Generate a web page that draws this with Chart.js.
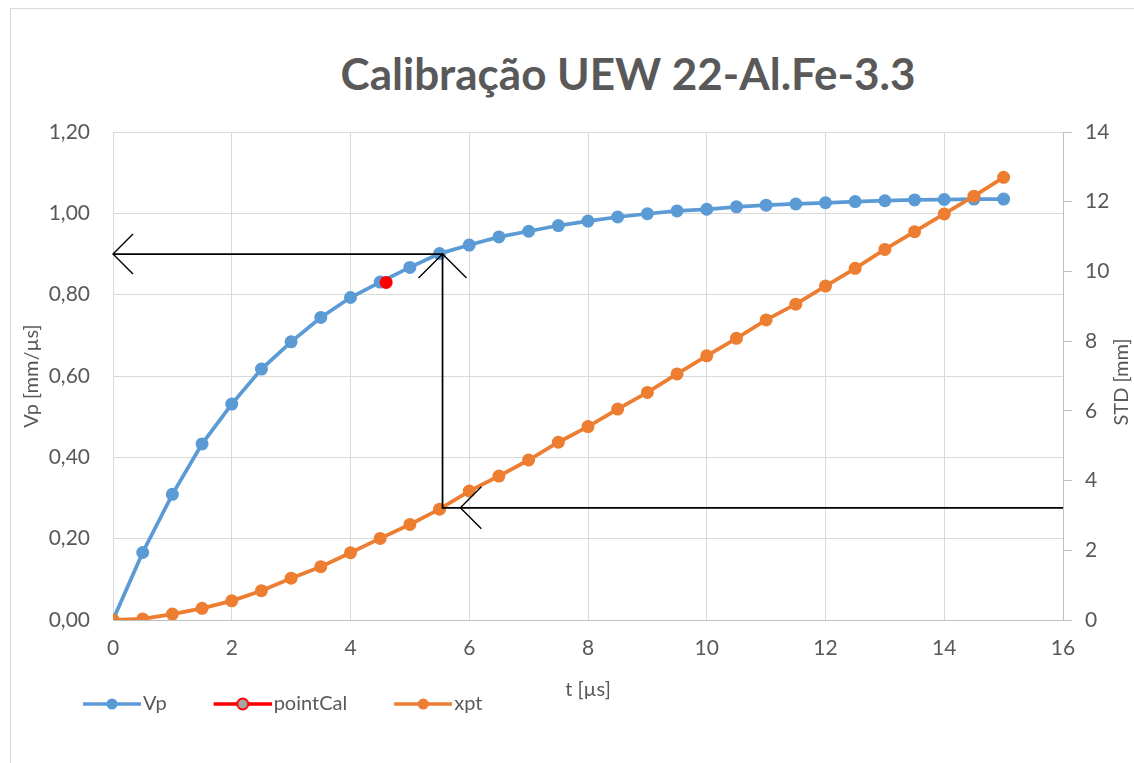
<!DOCTYPE html>
<html lang="pt">
<head>
<meta charset="utf-8">
<title>Calibração UEW 22-Al.Fe-3.3</title>
<script src="https://cdn.jsdelivr.net/npm/chart.js@4.4.1/dist/chart.umd.min.js"></script>
<style>
  html, body { margin: 0; padding: 0; background: #fff; overflow: hidden; }
  #frame {
    position: absolute; left: 10px; top: 8px;
    width: 1140px; height: 800px;
    border: 1px solid #d9d9d9;
  }
  #title {
    position: absolute; top: 47px; left: 628px;
    transform: translateX(-50%);
    font: bold 44px Lato, "Open Sans", sans-serif;
    color: #595959; white-space: nowrap; line-height: 1.2;
  }
  #wrap { position: absolute; left: 0; top: 0; width: 1134px; height: 763px; }
</style>
</head>
<body>
<div id="frame"></div>
<div id="title">Calibração UEW 22-Al.Fe-3.3</div>
<div id="wrap"><canvas id="chart"></canvas></div>
<script>
// tempo [µs]
const tempo = [0, 0.5, 1, 1.5, 2, 2.5, 3, 3.5, 4, 4.5, 5, 5.5, 6, 6.5, 7, 7.5,
               8, 8.5, 9, 9.5, 10, 10.5, 11, 11.5, 12, 12.5, 13, 13.5, 14, 14.5, 15];
// velocidade Vp [mm/µs]
const vp = [0, 0.166, 0.309, 0.433, 0.531, 0.617, 0.684, 0.744, 0.793, 0.831, 0.867,
            0.901, 0.922, 0.942, 0.956, 0.970, 0.981, 0.991, 0.999, 1.006, 1.010,
            1.016, 1.020, 1.023, 1.026, 1.029, 1.031, 1.033, 1.034, 1.035, 1.035];
// deslocamento xpt [mm]
const xpt = [0, 0.03, 0.17, 0.335, 0.55, 0.84, 1.20, 1.53, 1.93, 2.34, 2.74,
             3.18, 3.70, 4.13, 4.59, 5.10, 5.55, 6.05, 6.53, 7.06, 7.58,
             8.08, 8.61, 9.06, 9.58, 10.09, 10.63, 11.14, 11.65, 12.16, 12.70];
// ponto de calibração
const pointCalT = [4.6];
const pointCalVp = [0.83];
// leitura da calibração (setas)
const calT = 5.55;
const calVp = 0.90;
const calStd = 3.22;
const calArrowT = 5.85;

const xTicksMax = 16;
const vpAxisMax = 1.2;
const stdAxisMax = 14;

const BLUE = "#5b9bd5";
const ORANGE = "#ed7d31";
const RED = "#ff0000";
const TXT = "#595959";
const FONT = "Lato, 'Open Sans', sans-serif";

// -----------------------------------------------------------------------
// Legend symbols: line with a marker, right-aligned in a wider canvas
// -----------------------------------------------------------------------
function legendSymbol(lineColor, fill, stroke) {
  const extra = 45, len = 58, h = 20;
  const c = document.createElement("canvas");
  c.width = extra + len; c.height = h;
  const g = c.getContext("2d");
  g.strokeStyle = lineColor; g.lineWidth = 3.5;
  g.beginPath(); g.moveTo(extra, h / 2); g.lineTo(extra + len, h / 2); g.stroke();
  g.beginPath(); g.arc(extra + len / 2, h / 2, 5.5, 0, Math.PI * 2);
  g.fillStyle = fill; g.fill();
  if (stroke) { g.strokeStyle = stroke; g.lineWidth = 2; g.stroke(); }
  return c;
}
const symbols = [
  legendSymbol(BLUE, BLUE),
  legendSymbol(RED, "#a5a5a5", RED),
  legendSymbol(ORANGE, ORANGE),
];

// -----------------------------------------------------------------------
// Guide lines with open arrowheads
// -----------------------------------------------------------------------
function chevron(g, x, y, dir, arm) {
  g.beginPath();
  if (dir === "left") {
    g.moveTo(x + arm, y - arm); g.lineTo(x, y); g.lineTo(x + arm, y + arm);
  } else {
    g.moveTo(x - arm, y + arm); g.lineTo(x, y); g.lineTo(x + arm, y + arm);
  }
  g.stroke();
}

const guidePlugin = {
  id: "guides",
  afterDatasetsDraw(chart) {
    const { ctx: g, scales } = chart;
    const xs = scales.x, yv = scales.y, ys = scales.y1;
    const xc = xs.getPixelForValue(calT);
    const yc = yv.getPixelForValue(calVp);
    const x0 = xs.getPixelForValue(0);
    const xr = xs.getPixelForValue(xTicksMax);
    const yStd = ys.getPixelForValue(calStd);
    g.save();
    g.strokeStyle = "#000";
    g.lineWidth = 1.75;
    g.beginPath();
    g.moveTo(x0, yc); g.lineTo(xc, yc); g.lineTo(xc, yStd); g.lineTo(xr, yStd);
    g.stroke();
    g.lineWidth = 1.4;
    chevron(g, x0, yc, "left", 20);
    chevron(g, xc, yc, "up", 24);
    chevron(g, xs.getPixelForValue(calArrowT), yStd, "left", 21);
    g.restore();
  },
  afterDraw(chart) {
    // secondary axis title, reading bottom to top
    const s = chart.scales.y1;
    const g = chart.ctx;
    g.save();
    g.translate(s.right - 12, (s.top + s.bottom) / 2 + 6);
    g.rotate(-Math.PI / 2);
    g.fillStyle = TXT;
    g.font = "20px " + FONT;
    g.textAlign = "center";
    g.textBaseline = "middle";
    g.fillText("STD [mm]", 0, 0);
    g.restore();
  },
};

const toPoints = (xsArr, ysArr) => xsArr.map((v, i) => ({ x: v, y: ysArr[i] }));
const comma = (v, d) => v.toFixed(d).replace(".", ",");

Chart.defaults.font.family = FONT;
Chart.defaults.color = TXT;

new Chart(document.getElementById("chart"), {
  type: "line",
  data: {
    datasets: [
      {
        label: "Vp", data: toPoints(tempo, vp), yAxisID: "y", order: 3,
        borderColor: BLUE, backgroundColor: BLUE, borderWidth: 3.75,
        pointRadius: 6.5, pointBorderWidth: 0, tension: 0,
      },
      {
        label: "pointCal", data: toPoints(pointCalT, pointCalVp), yAxisID: "y", order: 2,
        borderColor: RED, backgroundColor: RED, borderWidth: 3.75,
        pointRadius: 6.5, pointBorderWidth: 0,
      },
      {
        label: "xpt", data: toPoints(tempo, xpt), yAxisID: "y1", order: 1,
        borderColor: ORANGE, backgroundColor: ORANGE, borderWidth: 3.75,
        pointRadius: 6.5, pointBorderWidth: 0, tension: 0,
      },
    ],
  },
  options: {
    animation: false,
    responsive: true,
    maintainAspectRatio: false,
    layout: { padding: { left: 36, right: 0, top: 132, bottom: 39 } },
    plugins: {
      title: { display: false },
      tooltip: { enabled: false },
      legend: {
        position: "bottom",
        align: "start",
        labels: {
          usePointStyle: true,
          pointStyleWidth: 87,
          padding: 10,
          color: TXT,
          font: { size: 20 },
          generateLabels: (chart) => chart.data.datasets.map((ds, i) => ({
            text: ds.label, pointStyle: symbols[i], datasetIndex: i,
            fontColor: TXT, lineWidth: 0, strokeStyle: "transparent", fillStyle: "transparent",
          })),
        },
      },
    },
    scales: {
      x: {
        type: "linear", min: 0, max: xTicksMax,
        afterFit: (s) => { s.height = 64; },
        grid: { color: "#d9d9d9", drawTicks: false },
        border: { color: "#bfbfbf" },
        ticks: { stepSize: 2, padding: 16, maxRotation: 0, font: { size: 21 }, color: TXT },
        title: { display: true, text: "t [µs]", color: TXT, font: { size: 20 }, padding: { top: 0, bottom: -18 } },
      },
      y: {
        type: "linear", position: "left", min: 0, max: vpAxisMax,
        afterFit: (s) => { s.width = 77; },
        grid: { color: "#d9d9d9", drawTicks: false },
        border: { color: "#d9d9d9" },
        ticks: { stepSize: 0.2, padding: 23, font: { size: 21 }, color: TXT, callback: (v) => comma(v, 2) },
        title: { display: true, text: "Vp [mm/µs]", color: TXT, font: { size: 20 }, padding: { top: -16, bottom: 0 } },
      },
      y1: {
        type: "linear", position: "right", min: 0, max: stdAxisMax,
        afterFit: (s) => { s.width = 71; },
        grid: { drawOnChartArea: false, drawTicks: true, tickLength: 9, color: "#bfbfbf" },
        border: { color: "#bfbfbf" },
        ticks: { stepSize: 2, padding: 13, font: { size: 21 }, color: TXT },
      },
    },
  },
  plugins: [guidePlugin],
});
</script>
</body>
</html>
